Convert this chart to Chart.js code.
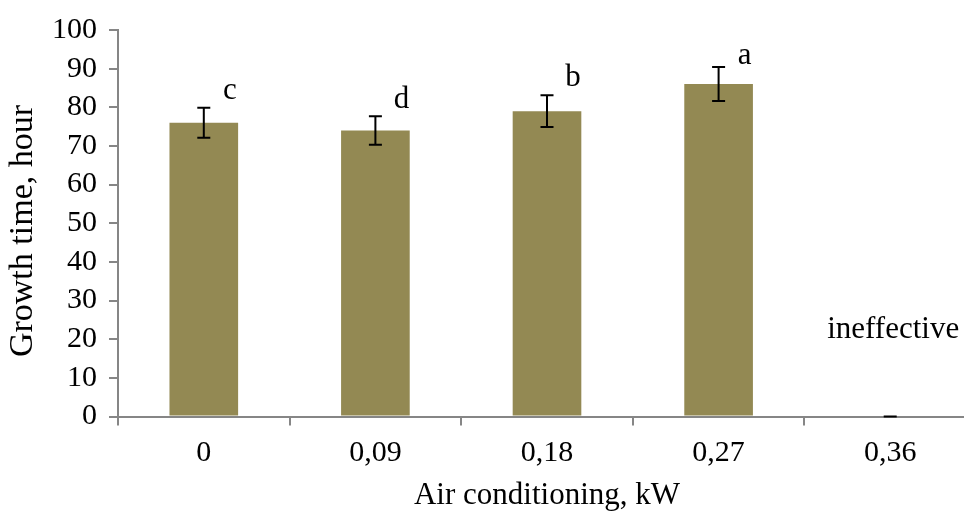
<!DOCTYPE html>
<html>
<head>
<meta charset="utf-8">
<script src="https://cdn.jsdelivr.net/npm/chart.js@4/dist/chart.umd.min.js"></script>
<style>
  html, body { margin: 0; padding: 0; background: #fff; overflow: hidden; width: 964px; height: 511px; }
  #wrap { width: 976px; height: 511px; }
</style>
</head>
<body>
<div id="wrap"><canvas id="c" width="976" height="511"></canvas></div>
<script>
const categories = ['0', '0,09', '0,18', '0,27', '0,36'];
const growthTime = [76, 74, 79, 86, 0];
const errorValues = [3.9, 3.7, 4.1, 4.4, 0];
const sigLetters = ['c', 'd', 'b', 'a', 'ineffective'];
const letterLevels = [84.3, 82.0, 87.7, 93.3, 22.4];
const yTicks = [0, 10, 20, 30, 40, 50, 60, 70, 80, 90, 100];
const yTitle = 'Growth time, hour';
const xTitle = 'Air conditioning, kW';

const FONT = '"Liberation Serif", "Times New Roman", serif';
const AXIS_GRAY = '#868686';

const errorBarPlugin = {
  id: 'errorBars',
  afterDatasetsDraw(chart) {
    const meta = chart.getDatasetMeta(0);
    const y = chart.scales.y;
    const ctx = chart.ctx;
    ctx.save();
    ctx.strokeStyle = '#000';
    ctx.lineWidth = 2;
    meta.data.forEach((bar, i) => {
      const v = growthTime[i], e = errorValues[i];
      const yt = y.getPixelForValue(v + e);
      const yb = y.getPixelForValue(v - e);
      const x = bar.x;
      ctx.beginPath();
      ctx.moveTo(x, yt); ctx.lineTo(x, yb);
      ctx.moveTo(x - 6.5, yt); ctx.lineTo(x + 6.5, yt);
      ctx.moveTo(x - 6.5, yb); ctx.lineTo(x + 6.5, yb);
      ctx.stroke();
    });
    ctx.restore();
  }
};

const textPlugin = {
  id: 'texts',
  afterDraw(chart) {
    const meta = chart.getDatasetMeta(0);
    const y = chart.scales.y;
    const ctx = chart.ctx;
    ctx.save();
    ctx.fillStyle = '#000';
    ctx.font = '31px ' + FONT;
    ctx.textAlign = 'center';
    ctx.textBaseline = 'middle';
    meta.data.forEach((bar, i) => {
      const txt = sigLetters[i];
      const dx = txt.length === 1 ? 26 : 3;
      ctx.fillText(txt, bar.x + dx, y.getPixelForValue(letterLevels[i]));
    });
    // y-axis title
    ctx.font = '34px ' + FONT;
    ctx.translate(23.5, 231);
    ctx.rotate(-Math.PI / 2);
    ctx.fillText(yTitle, 0, 0);
    ctx.restore();
  }
};

new Chart(document.getElementById('c'), {
  type: 'bar',
  data: {
    labels: categories,
    datasets: [{
      data: growthTime,
      backgroundColor: '#938953',
      borderWidth: 0,
      barPercentage: 0.4,
      categoryPercentage: 1.0
    }]
  },
  options: {
    responsive: false,
    animation: false,
    devicePixelRatio: 1,
    layout: { padding: { top: 27, left: 0, right: 0, bottom: 0 } },
    plugins: { legend: { display: false }, tooltip: { enabled: false } },
    scales: {
      x: {
        grid: { drawOnChartArea: false, drawTicks: true, tickLength: 9, color: AXIS_GRAY, lineWidth: 2, offset: true },
        border: { color: AXIS_GRAY, width: 2 },
        ticks: { color: '#000', font: { family: FONT, size: 30 }, padding: 10, maxRotation: 0, autoSkip: false },
        title: { display: true, text: xTitle, color: '#000', font: { family: FONT, size: 31, lineHeight: 1.0 }, padding: 0 },
        afterFit(scale) { scale.height = 94.5; }
      },
      y: {
        min: 0, max: 100,
        afterBuildTicks(scale) { scale.ticks = yTicks.map(v => ({ value: v })); },
        grid: { drawOnChartArea: false, drawTicks: true, tickLength: 9, color: AXIS_GRAY, lineWidth: 2 },
        border: { color: AXIS_GRAY, width: 2 },
        ticks: { color: '#000', font: { family: FONT, size: 30 }, padding: 12, autoSkip: false },
        title: { display: false },
        afterFit(scale) { scale.width = 118; }
      }
    }
  },
  plugins: [errorBarPlugin, textPlugin]
});
</script>
</body>
</html>
